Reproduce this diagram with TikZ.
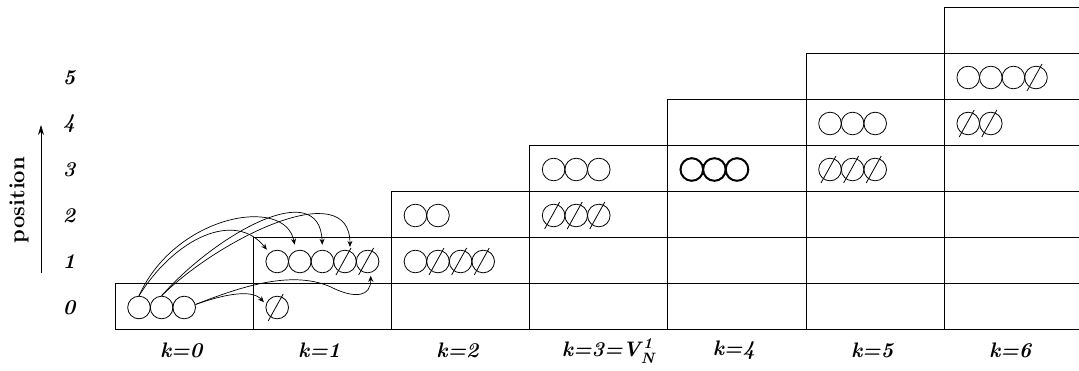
\documentclass[tikz,border=0pt]{standalone}
\usepackage{fontspec}
\usetikzlibrary{arrows.meta}
\newcommand{\putballs}[3]{%
  \foreach \t [count=\i] in {#3} {
    \pgfmathsetmacro\bx{115+138.2*#1+24+22.6*(\i-1)}
    \pgfmathsetmacro\by{329-46*#2-21.5}
    \ifnum\t=2 \node[boldball] (c#1#2\i) at (\bx,\by) {};
    \else \node[ball] (c#1#2\i) at (\bx,\by) {}; \fi
    \ifnum\t=1 \draw[cut] (c#1#2\i.center) +(-9,13.5) -- +(6,-13.5); \fi
  }}
\begin{document}
\begin{tikzpicture}[x=1pt,y=-1pt,
  grid/.style={line width=0.9pt},
  ball/.style={circle,draw,line width=0.8pt,minimum size=22.6pt,inner sep=0pt},
  boldball/.style={ball,line width=2pt},
  cut/.style={line width=0.8pt},
  move/.style={line width=0.7pt,-{Stealth[length=6pt,width=5pt]}},
  lab/.style={font=\fontsize{21}{25}\selectfont\bfseries\itshape},
  axlab/.style={font=\fontsize{22}{26}\selectfont\bfseries}]
\useasboundingbox (0,0) rectangle (1079,370);
% grid
\foreach \k in {0,...,6} {
  \pgfmathsetmacro\xl{115+138.2*\k}
  \pgfmathsetmacro\yt{329-46*(\k+1)}
  \draw[grid] (\xl,329) -- (\xl,\yt);
}
\foreach \j in {0,...,7} {
  \pgfmathsetmacro\xs{115+138.2*max(\j-1,0)}
  \pgfmathsetmacro\yy{329-46*\j}
  \draw[grid] (\xs,\yy) -- (1079,\yy);
}
% balls
\putballs{0}{0}{0,0,0}
\putballs{1}{0}{1}
\putballs{1}{1}{0,0,0,1,1}
\putballs{2}{1}{0,1,1,1}
\putballs{2}{2}{0,0}
\putballs{3}{2}{1,1,1}
\putballs{3}{3}{0,0,0}
\putballs{4}{3}{2,2,2}
\putballs{5}{3}{1,1,1}
\putballs{5}{4}{0,0,0}
\putballs{6}{4}{1,1}
\putballs{6}{5}{0,0,0,1}
% moves
\draw[move,shorten >=4pt] (c001.north) .. controls (175,238) and (235,210) .. (c111.132);
\draw[move,shorten >=6pt] (c001.north) .. controls (175,215) and (285,195) .. (c112.110);
\draw[move,shorten >=5pt] (c002.north) .. controls (215,235) and (320,175) .. (c113.north);
\draw[move,shorten >=4pt] (c002.north) .. controls (220,238) and (350,175) .. (c114.65);
\draw[move,shorten >=3pt] (c003.15) .. controls (225,294) and (252,289) .. (c101.165);
\draw[move,shorten >=3pt] (c003.15) .. controls (240,287) and (295,268) .. (335,289)
   .. controls (355,298) and (371,297) .. (c115.-75);
% labels
\foreach \j in {0,...,5} {
  \pgfmathsetmacro\ly{308-46*\j}
  \node[lab] (p\j) at (69,\ly) {\j};
}
\foreach \k in {0,1,2,4,5,6} {
  \pgfmathsetmacro\lx{115+138.2*(\k+0.5)-3}
  \node[lab] (k\k) at (\lx,350) {k=\k};
}
\node[lab] (k3) at (607,351) {k=3=V\raisebox{-7pt}{\fontsize{15}{17}\selectfont N}\hspace{-11pt}\raisebox{8pt}{\fontsize{15}{17}\selectfont 1}};
\node[axlab,rotate=90] (pos) at (19,200) {position};
\coordinate (ab) at (41,273);
\coordinate (at) at (41,125);
\draw[line width=0.8pt,-{Stealth[length=10pt,width=6pt]}] (ab) -- (at);
\end{tikzpicture}
\end{document}
